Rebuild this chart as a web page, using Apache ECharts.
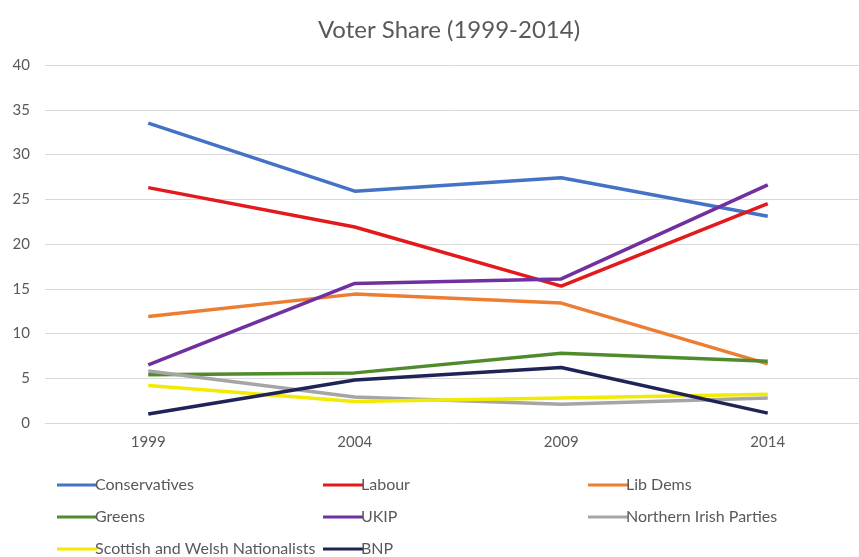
<!DOCTYPE html>
<html><head><meta charset="utf-8">
<script src="https://cdn.jsdelivr.net/npm/echarts@6/dist/echarts.min.js"></script>
<style>html,body{margin:0;padding:0;background:#fff}#c{width:859px;height:557px}</style>
</head><body><div id="c"></div>
<script>
const years = ['1999', '2004', '2009', '2014'];
const conservatives = [33.5, 25.9, 27.4, 23.1];
const labour = [26.3, 21.9, 15.3, 24.5];
const libDems = [11.9, 14.4, 13.4, 6.6];
const greens = [5.4, 5.6, 7.8, 6.9];
const ukip = [6.5, 15.6, 16.1, 26.6];
const northernIrish = [5.8, 2.9, 2.1, 2.8];
const scottishWelsh = [4.2, 2.4, 2.8, 3.2];
const bnp = [1.0, 4.8, 6.2, 1.1];
const yTicks = [0, 5, 10, 15, 20, 25, 30, 35, 40];

const FONT = 'Lato';
const names = ['Conservatives','Labour','Lib Dems','Greens','UKIP','Northern Irish Parties','Scottish and Welsh Nationalists','BNP'];
const datas = [conservatives, labour, libDems, greens, ukip, northernIrish, scottishWelsh, bnp];
const colors = ['#4472C4','#E3191C','#ED7D31','#4F8A2B','#7030A0','#A5A5A5','#F2EA00','#1F2356'];
const legendLefts = [52, 318, 583];
const legendTops = [472, 504, 536];

function legendItem(i) {
  return {
    data: [names[i]], left: legendLefts[i % 3], top: legendTops[Math.floor(i / 3)],
    icon: 'rect', itemWidth: 40, itemHeight: 3,
    textStyle: {fontFamily: FONT, fontSize: 16, color: '#595959', padding: [0,0,0,-7]}
  };
}

const chart = echarts.init(document.getElementById('c'));
chart.setOption({
  animation: false,
  color: colors,
  title: {text: 'Voter Share (1999-2014)', left: 444, top: 13, textAlign: 'center',
    textStyle: {fontFamily: FONT, fontSize: 24, fontWeight: 'normal', color: '#595959'}},
  legend: names.map((n, i) => legendItem(i)),
  grid: {left: 45, width: 826, top: 65, bottom: 134, containLabel: false, outerBoundsMode: 'none'},
  xAxis: {type: 'category', data: years, boundaryGap: true,
    axisLine: {lineStyle: {color: '#D9D9D9'}}, axisTick: {show: false},
    axisLabel: {fontFamily: FONT, fontSize: 15, color: '#595959', margin: 12}},
  yAxis: {type: 'value', min: yTicks[0], max: yTicks[yTicks.length-1], interval: 5,
    axisLine: {show: false}, axisTick: {show: false},
    splitLine: {lineStyle: {color: '#D9D9D9'}},
    axisLabel: {fontFamily: FONT, fontSize: 15, color: '#595959', margin: 15}},
  series: names.map((n, i) => ({
    name: n, type: 'line', data: datas[i], symbol: 'none',
    lineStyle: {width: 3.5, color: colors[i]}, itemStyle: {color: colors[i]}
  }))
});
</script></body></html>
